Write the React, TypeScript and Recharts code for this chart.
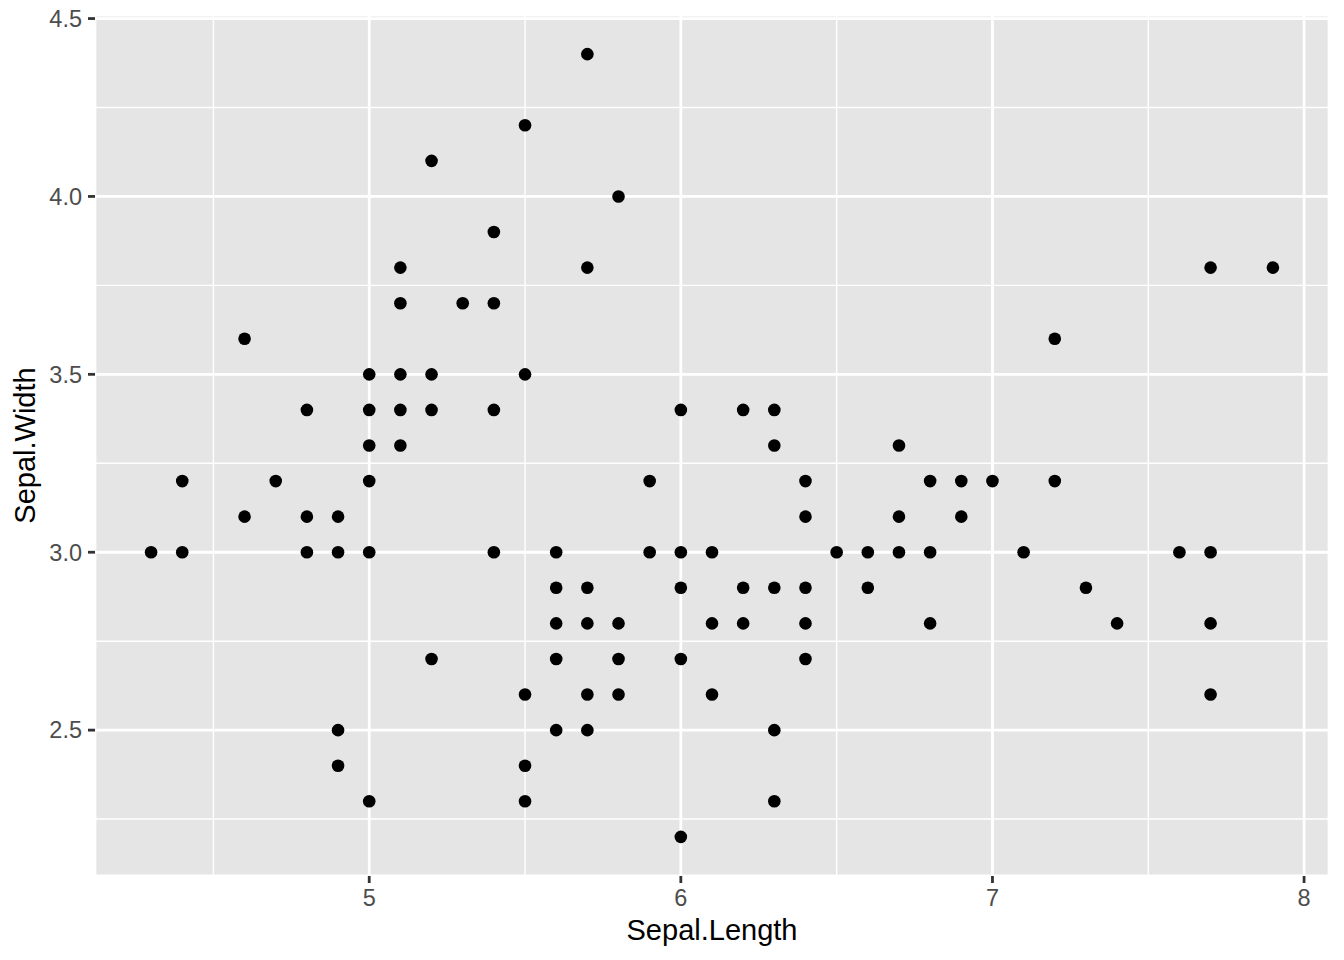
import {
  ScatterChart,
  Scatter,
  XAxis,
  YAxis,
  CartesianGrid,
  ReferenceLine,
  Label,
} from "recharts";

const sepalLength = [
  4.3, 4.4, 4.4, 4.6, 4.6, 4.7, 4.8, 4.8, 4.8, 4.9, 4.9, 4.9, 4.9,
  5.0, 5.0, 5.0, 5.0, 5.0, 5.0, 5.1, 5.1, 5.1, 5.1, 5.1, 5.2, 5.2, 5.2, 5.2,
  5.3, 5.4, 5.4, 5.4, 5.4, 5.5, 5.5, 5.5, 5.5, 5.5, 5.6, 5.6, 5.6, 5.6, 5.6,
  5.7, 5.7, 5.7, 5.7, 5.7, 5.7, 5.8, 5.8, 5.8, 5.8, 5.9, 5.9,
  6.0, 6.0, 6.0, 6.0, 6.0, 6.1, 6.1, 6.1, 6.2, 6.2, 6.2,
  6.3, 6.3, 6.3, 6.3, 6.3, 6.4, 6.4, 6.4, 6.4, 6.4, 6.5, 6.6, 6.6,
  6.7, 6.7, 6.7, 6.8, 6.8, 6.8, 6.9, 6.9, 7.0, 7.1, 7.2, 7.2, 7.3, 7.4, 7.6,
  7.7, 7.7, 7.7, 7.7, 7.9,
];
const sepalWidth = [
  3.0, 3.2, 3.0, 3.6, 3.1, 3.2, 3.4, 3.1, 3.0, 3.1, 3.0, 2.5, 2.4,
  3.5, 3.4, 3.3, 3.2, 3.0, 2.3, 3.8, 3.7, 3.5, 3.4, 3.3, 4.1, 3.5, 3.4, 2.7,
  3.7, 3.9, 3.7, 3.4, 3.0, 4.2, 3.5, 2.6, 2.4, 2.3, 3.0, 2.9, 2.8, 2.7, 2.5,
  4.4, 3.8, 2.9, 2.8, 2.6, 2.5, 4.0, 2.8, 2.7, 2.6, 3.2, 3.0,
  3.4, 3.0, 2.9, 2.7, 2.2, 3.0, 2.8, 2.6, 3.4, 2.9, 2.8,
  3.4, 3.3, 2.9, 2.5, 2.3, 3.2, 3.1, 2.9, 2.8, 2.7, 3.0, 3.0, 2.9,
  3.3, 3.1, 3.0, 3.2, 3.0, 2.8, 3.2, 3.1, 3.2, 3.0, 3.6, 3.2, 2.9, 2.8, 3.0,
  3.8, 3.0, 2.8, 2.6, 3.8,
];

const xTicks = [5, 6, 7, 8];
const yTicks = [2.5, 3.0, 3.5, 4.0, 4.5];
const xMinor = [4.5, 5.5, 6.5, 7.5];
const yMinor = [2.25, 2.75, 3.25, 3.75, 4.25];

const data = sepalLength.map((x, i) => ({ x, y: sepalWidth[i] }));

const FONT = '"Liberation Sans", Arial, Helvetica, sans-serif';
const tickStyle = { fontSize: 23.5, fill: "#4D4D4D", fontFamily: FONT };

export default function App() {
  return (
    <div style={{ position: "absolute", left: 0, top: 0, background: "#fff" }}>
      <ScatterChart
        width={1344}
        height={960}
        margin={{ top: 15, right: 15, bottom: 0, left: 0 }}
      >
        <CartesianGrid
          fill="#E5E5E5"
          stroke="#FFFFFF"
          strokeWidth={2.8}
          strokeDasharray=""
        />
        {xMinor.map((v) => (
          <ReferenceLine key={"vx" + v} x={v} stroke="#FFFFFF" strokeWidth={1.4} />
        ))}
        {yMinor.map((v) => (
          <ReferenceLine key={"hy" + v} y={v} stroke="#FFFFFF" strokeWidth={1.4} />
        ))}
        <XAxis
          type="number"
          dataKey="x"
          domain={[4.12, 8.08]}
          ticks={xTicks}
          allowDataOverflow
          axisLine={false}
          tickLine={{ stroke: "#333333", strokeWidth: 2.8 }}
          tickSize={7}
          tickMargin={6}
          height={84}
          tick={tickStyle}
        >
          <Label
            content={(props: any) => {
              const vb = props.viewBox;
              return (
                <text
                  x={vb.x + vb.width / 2}
                  y={940}
                  textAnchor="middle"
                  fontSize={29}
                  fontFamily={FONT}
                  fill="#000"
                >
                  Sepal.Length
                </text>
              );
            }}
          />
        </XAxis>
        <YAxis
          type="number"
          dataKey="y"
          domain={[2.09, 4.51]}
          ticks={yTicks}
          allowDataOverflow
          axisLine={false}
          tickLine={{ stroke: "#333333", strokeWidth: 2.8 }}
          tickSize={7}
          tickMargin={6}
          width={95}
          tick={tickStyle}
          tickFormatter={(v: number) => v.toFixed(1)}
        >
          <Label
            content={(props: any) => {
              const vb = props.viewBox;
              const cy = vb.y + vb.height / 2;
              return (
                <text
                  x={35}
                  y={cy}
                  textAnchor="middle"
                  fontSize={29}
                  fontFamily={FONT}
                  fill="#000"
                  transform={`rotate(-90, 35, ${cy})`}
                >
                  Sepal.Width
                </text>
              );
            }}
          />
        </YAxis>
        <Scatter
          data={data}
          isAnimationActive={false}
          shape={(p: any) => <circle cx={p.cx} cy={p.cy} r={6.3} fill="#000000" />}
        />
      </ScatterChart>
    </div>
  );
}
